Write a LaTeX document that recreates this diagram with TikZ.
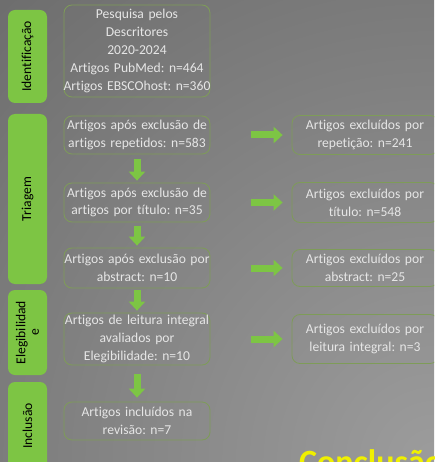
\documentclass[tikz,border=0pt]{standalone}
\usepackage{fontspec}
\setmainfont[Ligatures=NoCommon]{Carlito}
\usetikzlibrary{arrows.meta}
\definecolor{barGreen}{HTML}{7DC544}
\definecolor{boxLine}{HTML}{7E9C58}
\definecolor{boxText}{HTML}{E6E6E6}
\definecolor{bgDark}{HTML}{484848}
\definecolor{bgLight}{HTML}{9C9C9C}
\definecolor{titleYellow}{HTML}{F0F000}
\frenchspacing

\begin{document}
\begin{tikzpicture}[x=1pt,y=-1pt]
        \tikzset{stepbox/.style = {shape=rectangle, rounded corners=8pt, draw=boxLine, line width=0.8pt,
                 text=boxText, align=center, text width=152pt, inner ysep=2pt, inner xsep=-3pt,
                 font=\fontsize{13.6}{17.8}\selectfont}}
        \tikzset{sidebar/.style = {shape=rectangle, rounded corners=7pt, fill=barGreen, rotate=90,
                 minimum height=39pt, align=center, inner sep=1pt,
                 font=\fontsize{13.6}{13.6}\selectfont}}
        \tikzset{flow/.style = {-{Triangle[width=16pt,length=9pt]}, line width=7pt, draw=barGreen}}
        \useasboundingbox (0,0) rectangle (434,462);
        \clip (0,0) rectangle (434,462);
        % background
        \shade[inner color=bgLight, outer color=bgDark] (434,462) circle (1150);
        % stages
        \node[sidebar, minimum width=93pt]  (ident) at (27.5,56.5)  {Identificação};
        \node[sidebar, minimum width=170pt] (triag) at (27.5,199)   {Triagem};
        \node[sidebar, minimum width=85pt]  (eleg)  at (27.5,332.5) {Elegibilidad\\e};
        \node[sidebar, minimum width=88pt]  (incl)  at (27.5,426)   {Inclusão};
        % boxes
        \node[stepbox, minimum height=92pt] (b1) at (137,51)  {Pesquisa pelos\\Descritores\\2020-2024\\Artigos PubMed: n=464\\Artigos EBSCOhost: n=360};
        \node[stepbox, minimum height=38pt] (b2) at (137,135) {Artigos após exclusão de\\artigos repetidos: n=583};
        \node[stepbox, minimum height=39pt] (b3) at (137,202.5) {Artigos após exclusão de\\artigos por título: n=35};
        \node[stepbox, minimum height=40pt] (b4) at (137,268) {Artigos após exclusão por\\abstract: n=10};
        \node[stepbox, minimum height=52pt] (b5) at (137,339) {Artigos de leitura integral\\avaliados por\\Elegibilidade: n=10};
        \node[stepbox, minimum height=38pt] (b6) at (137,421) {Artigos incluídos na\\revisão: n=7};
        \node[stepbox, minimum height=39pt] (r1) at (365,135) {Artigos excluídos por\\repetição: n=241};
        \node[stepbox, minimum height=40pt] (r2) at (365,202.5) {Artigos excluídos por\\título: n=548};
        \node[stepbox, minimum height=37pt] (r3) at (365,268) {Artigos excluídos por\\abstract: n=25};
        \node[stepbox, minimum height=49pt] (r4) at (365,339) {Artigos excluídos por\\leitura integral: n=3};
        \node[anchor=base west, inner sep=0pt, text=titleYellow, font=\fontsize{34}{34}\selectfont\bfseries] (concl) at (299,473) {Conclusão};
        %edges
        \draw[flow, shorten <=5pt, shorten >=2pt] (b2) -- (b3);
        \draw[flow, shorten <=4pt, shorten >=2pt] (b3) -- (b4);
        \draw[flow, shorten <=2pt, shorten >=2pt] (b4) -- (b5);
        \draw[flow, shorten <=9pt, shorten >=4pt] (b5) -- (b6);
        \draw[flow, shorten <=41pt, shorten >=9pt] (b2) -- (r1);
        \draw[flow, shorten <=41pt, shorten >=9pt] (b3) -- (r2);
        \draw[flow, shorten <=41pt, shorten >=9pt] (b4) -- (r3);
        \draw[flow, shorten <=41pt, shorten >=9pt] (b5) -- (r4);
\end{tikzpicture}
\end{document}
